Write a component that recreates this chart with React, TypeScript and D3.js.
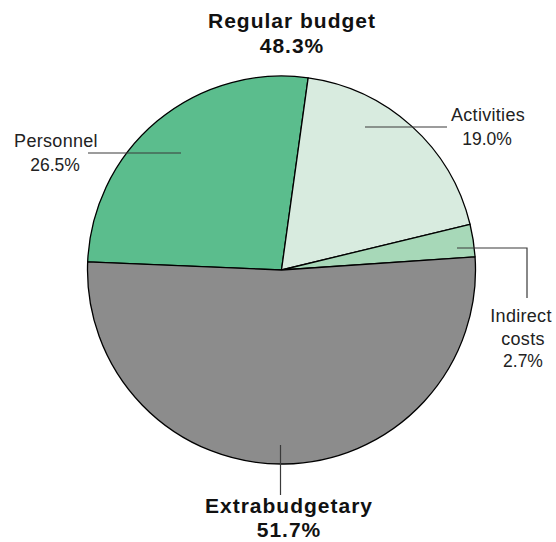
import React from "react";
import * as d3 from "d3";

const categories = ["Personnel", "Activities", "Indirect costs", "Extrabudgetary"];
const values = [26.5, 19.0, 2.7, 51.7];
const groupNames = ["Regular budget", "Extrabudgetary"];
const groupValues = [48.3, 51.7];

const colors = ["#5bbd8d", "#d8ebdf", "#a7d8b8", "#8c8c8c"];

const W = 556;
const H = 542;
const cx = 281.5;
const cy = 270;
const R = 194;

export default function App() {
  const pie = d3
    .pie<number>()
    .sort(null)
    .startAngle((-87.6 * Math.PI) / 180)
    .endAngle((-87.6 * Math.PI) / 180 + 2 * Math.PI);
  const arcs = pie(values);
  const arc = d3.arc<d3.PieArcDatum<number>>().innerRadius(0).outerRadius(R);
  const fmt = (v: number) => `${v.toFixed(1)}%`;

  const small: React.CSSProperties = {
    fontFamily: "'Liberation Sans', Arial, sans-serif",
    fontSize: 18,
    letterSpacing: 0.3,
    fill: "#222",
  };
  const num: React.CSSProperties = { fontSize: 17.5, letterSpacing: 0 };
  const big: React.CSSProperties = {
    fontFamily: "'Liberation Sans', Arial, sans-serif",
    fontSize: 21,
    fontWeight: 700,
    letterSpacing: 1,
    fill: "#111",
  };
  const lineStyle = { stroke: "#3a3a3a", strokeWidth: 1.2, fill: "none" };

  return (
    <svg width={W} height={H} style={{ position: "absolute", left: 0, top: 0 }}>
      <g transform={`translate(${cx},${cy})`}>
        {arcs.map((a, i) => (
          <path key={i} d={arc(a) || ""} fill={colors[i]} stroke="#000" strokeWidth={1.3} strokeLinejoin="round" />
        ))}
      </g>

      {/* leader lines */}
      <polyline points="88,153 181,153" style={lineStyle} />
      <polyline points="365,127 447,127" style={lineStyle} />
      <polyline points="457,248 527,248 527,298" style={lineStyle} />
      <polyline points="280.5,445 280.5,495" style={lineStyle} />

      {/* small labels */}
      <text textAnchor="middle" style={small}>
        <tspan x={56} y={147}>{categories[0]}</tspan>
        <tspan x={55} y={171} style={num}>{fmt(values[0])}</tspan>
      </text>
      <text textAnchor="middle" style={small}>
        <tspan x={488} y={121}>{categories[1]}</tspan>
        <tspan x={487} y={145} style={num}>{fmt(values[1])}</tspan>
      </text>
      <text textAnchor="middle" style={small}>
        <tspan x={521} y={322}>{categories[2].split(" ")[0]}</tspan>
        <tspan x={523} y={345}>{categories[2].split(" ")[1]}</tspan>
        <tspan x={523} y={367} style={num}>{fmt(values[2])}</tspan>
      </text>

      {/* group labels */}
      <text textAnchor="middle" style={big}>
        <tspan x={292} y={28}>{groupNames[0]}</tspan>
        <tspan x={292} y={53}>{fmt(groupValues[0])}</tspan>
      </text>
      <text textAnchor="middle" style={big}>
        <tspan x={289} y={513}>{groupNames[1]}</tspan>
        <tspan x={289} y={537}>{fmt(groupValues[1])}</tspan>
      </text>
    </svg>
  );
}
